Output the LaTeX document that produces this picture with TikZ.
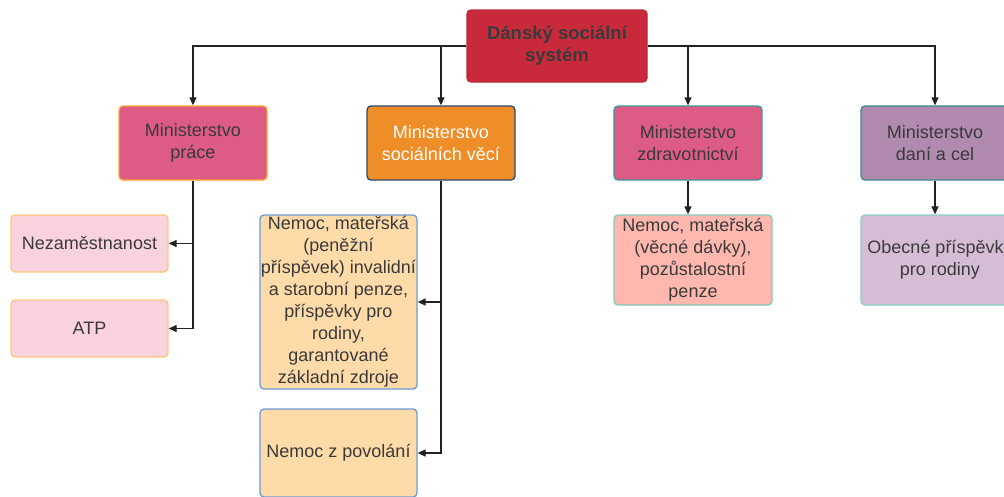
\documentclass[tikz,border=0pt]{standalone}
\usepackage{fontspec}
\setmainfont{Liberation Sans}
\usetikzlibrary{arrows.meta}

\definecolor{txt}{HTML}{3A3A3A}
\definecolor{line}{HTML}{222222}
\definecolor{titlefill}{HTML}{C82A3B}
\definecolor{titledraw}{HTML}{B8283A}
\definecolor{rosefill}{HTML}{DC5C85}
\definecolor{orangeline}{HTML}{F7A62C}
\definecolor{orangefill}{HTML}{EF8D28}
\definecolor{navyline}{HTML}{2E4A6A}
\definecolor{tealline}{HTML}{3A9A9C}
\definecolor{plumfill}{HTML}{B08BAF}
\definecolor{darkteal}{HTML}{3A8A8A}
\definecolor{pinkfill}{HTML}{F9D2DD}
\definecolor{paleorange}{HTML}{FBC97A}
\definecolor{peachfill}{HTML}{FEDBA8}
\definecolor{blueline}{HTML}{6C9BD6}
\definecolor{salmonfill}{HTML}{FFB7AE}
\definecolor{mintline}{HTML}{80CDB7}
\definecolor{lilacfill}{HTML}{D5BDD5}
\definecolor{paleteal}{HTML}{8BD0C4}

\tikzset{
  box/.style={rounded corners=4pt, line width=1.3pt, align=center, inner sep=0pt,
    text=txt, font=\fontsize{18}{22}\selectfont},
  ministry/.style={box, minimum width=148pt, minimum height=74pt},
  leaf/.style={box, minimum width=157pt},
  link/.style={draw=line, line width=1.3pt,
    -{Triangle[length=8pt,width=7pt]}},
  plain/.style={draw=line, line width=1.3pt},
}

\begin{document}
\begin{tikzpicture}[x=1pt,y=-1pt]
\clip (0,0) rectangle (1004,496);
\fill[white] (0,0) rectangle (1004,496);

% top node
\node[box, fill=titlefill, draw=titledraw, minimum width=180pt, minimum height=72pt,
      font=\fontsize{18.5}{22}\selectfont\bfseries] (root) at (557,46)
      {Dánský sociální\\systém};

% ministries
\node[ministry, fill=rosefill, draw=orangeline] (prace) at (193,143)
      {Ministerstvo\\práce};
\node[ministry, fill=orangefill, draw=navyline, text=white] (social) at (441,143)
      {Ministerstvo\\sociálních věcí};
\node[ministry, fill=rosefill, draw=tealline] (zdrav) at (688,143)
      {Ministerstvo\\zdravotnictví};
\node[ministry, fill=plumfill, draw=darkteal] (dane) at (935,143)
      {Ministerstvo\\daní a cel};

% benefits
\node[leaf, fill=pinkfill, draw=paleorange, minimum height=57pt] (nezam) at (89.5,243.5)
      {Nezaměstnanost};
\node[leaf, fill=pinkfill, draw=paleorange, minimum height=57pt] (atp) at (89.5,328.5)
      {ATP};
\node[leaf, fill=peachfill, draw=blueline, minimum height=174pt] (socA) at (338.5,302)
      {Nemoc, mateřská\\(peněžní\\příspěvek) invalidní\\a starobní penze,\\příspěvky pro\\rodiny,\\garantované\\základní zdroje};
\node[leaf, fill=peachfill, draw=blueline, minimum height=88pt] (socB) at (338.5,453)
      {Nemoc z povolání};
\node[box, minimum width=158pt, fill=salmonfill, draw=mintline, minimum height=90pt] (zdravA) at (693,260)
      {Nemoc, mateřská\\(věcné dávky),\\pozůstalostní\\penze};
\node[box, minimum width=158pt, fill=lilacfill, draw=paleteal, minimum height=90pt] (daneA) at (940,260)
      {Obecné příspěvky\\pro rodiny};

% connectors from the top node
\draw[link] (root.west) -| (prace.north);
\draw[link] (root.west) -| (social.north);
\draw[link] (root.east) -| (zdrav.north);
\draw[link] (root.east) -| (dane.north);

% connectors to the benefits
\draw[link] (prace.south) |- (nezam.east);
\draw[link] (prace.south) |- (atp.east);
\draw[link] (social.south) |- (socA.east);
\draw[link] (social.south) |- (socB.east);
\draw[link] (zdrav.south) -- (zdrav.south |- zdravA.north);
\draw[link] (dane.south) -- (dane.south |- daneA.north);
\end{tikzpicture}
\end{document}
